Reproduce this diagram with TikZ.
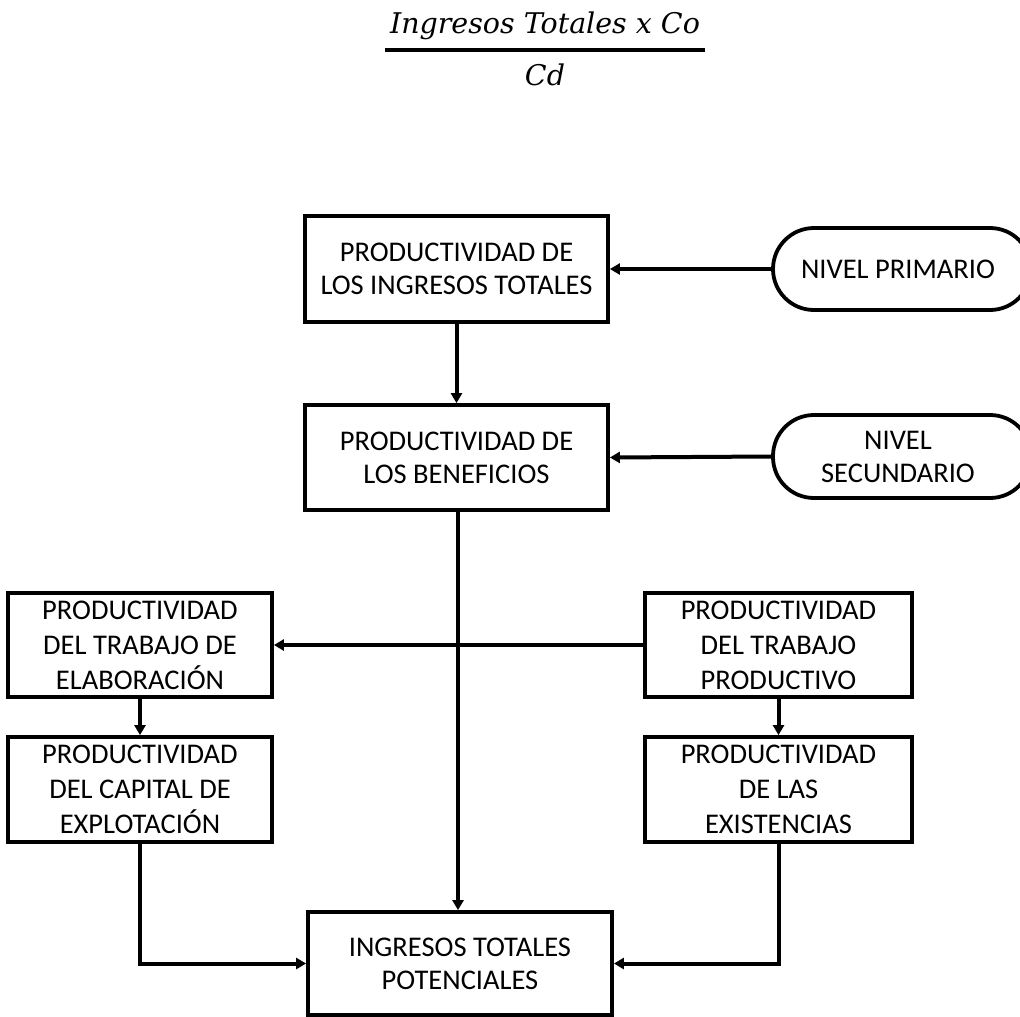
\documentclass[tikz,border=0pt]{standalone}
\usepackage{fontspec}
\setmainfont{Carlito}
\newfontfamily\frmfont{DejaVu Serif}
\usetikzlibrary{arrows.meta,positioning}
\begin{document}
\begin{tikzpicture}[x=1pt,y=-1pt,
  box/.style={draw,line width=3.8pt,align=center,inner sep=0pt,
    font=\fontsize{28.5}{33}\selectfont},
  tall/.style={font=\fontsize{28.5}{35}\selectfont},
  lvl/.style={box,rounded corners=41pt},
  frm/.style={font=\frmfont\itshape\fontsize{28.5}{30}\selectfont},
  conn/.style={line width=4pt,-{Triangle[length=10pt,width=11pt]}}]
\useasboundingbox (0,0) rectangle (1020,1017);
\node[frm] (num) at (545,26) {Ingresos Totales x Co};
\node[frm] (den) at (545,75) {Cd};
\draw[line width=3.5pt] (385,50) -- (705,50);

\node[box,minimum width=303pt,minimum height=106pt] (b1) at (456.5,269) {PRODUCTIVIDAD DE\\LOS INGRESOS TOTALES};
\node[box,minimum width=303pt,minimum height=105pt] (b2) at (456.5,457.5) {PRODUCTIVIDAD DE\\LOS BENEFICIOS};
\node[lvl,minimum width=258pt,minimum height=82pt] (prim) at (902,269) {\hspace*{-8pt}NIVEL PRIMARIO};
\node[lvl,minimum width=258pt,minimum height=83pt] (sec) at (902,456.5) {\hspace*{-8pt}NIVEL\\\hspace*{-8pt}SECUNDARIO};
\node[box,tall,minimum width=264pt,minimum height=104pt] (A) at (140,645) {PRODUCTIVIDAD\\DEL TRABAJO DE\\ELABORACIÓN};
\node[box,tall,minimum width=267pt,minimum height=104pt] (B) at (778.5,645) {PRODUCTIVIDAD\\DEL TRABAJO\\PRODUCTIVO};
\node[box,tall,minimum width=264pt,minimum height=105pt] (C) at (140,789.5) {PRODUCTIVIDAD\\DEL CAPITAL DE\\EXPLOTACIÓN};
\node[box,tall,minimum width=267pt,minimum height=105pt] (D) at (778.5,789.5) {PRODUCTIVIDAD\\DE LAS\\EXISTENCIAS};
\node[box,minimum width=304pt,minimum height=103pt] (E) at (460,963.5) {INGRESOS TOTALES\\POTENCIALES};

\draw[conn] (prim.west) -- (b1.east);
\draw[conn] (sec.west) -- (b2.east);
\draw[conn] (b1.south) -- (b2.north);
\draw[conn] ([xshift=1.5pt]b2.south) -- ([xshift=1.5pt]b2.south |- E.north);
\draw[conn] (B.west) -- (A.east);
\draw[conn] (A.south) -- (C.north);
\draw[conn] (B.south) -- (D.north);
\draw[conn] (C.south) |- (E.west);
\draw[conn] (D.south) |- (E.east);
\end{tikzpicture}
\end{document}
